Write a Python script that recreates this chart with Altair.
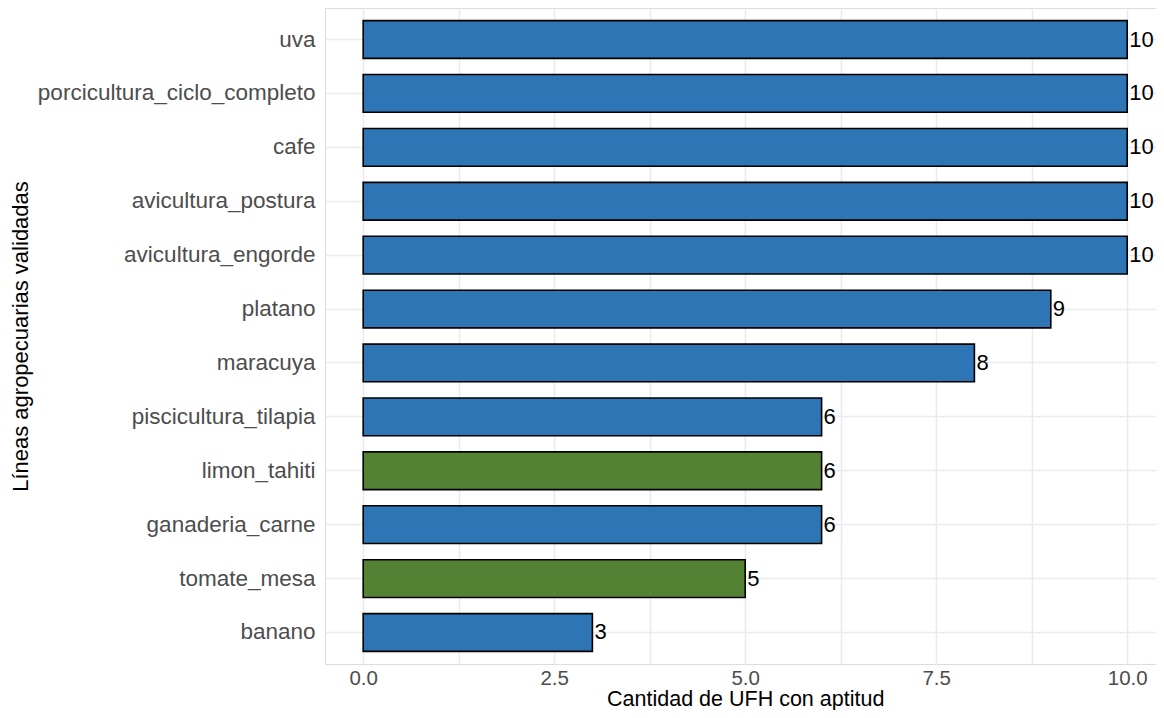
import altair as alt
import pandas as pd

lineas = ["uva", "porcicultura_ciclo_completo", "cafe", "avicultura_postura",
          "avicultura_engorde", "platano", "maracuya", "piscicultura_tilapia",
          "limon_tahiti", "ganaderia_carne", "tomate_mesa", "banano"]
valores = [10, 10, 10, 10, 10, 9, 8, 6, 6, 6, 5, 3]
grupos = ["A", "A", "A", "A", "A", "A", "A", "A", "B", "A", "B", "A"]
colores = ["#2E75B6", "#548235"]
x_grid = [0, 1.25, 2.5, 3.75, 5, 6.25, 7.5, 8.75, 10]

df = pd.DataFrame({"linea": lineas, "valor": valores, "grupo": grupos})

FONT = "Liberation Sans"
PX = 76.4
W, H = 831, 656

y_enc = alt.Y("linea:N", sort=lineas,
              scale=alt.Scale(paddingInner=0.3, paddingOuter=0.235),
              axis=alt.Axis(title="Líneas agropecuarias validadas", ticks=False, domain=False,
                            grid=True, gridColor="#EBEBEB", gridWidth=1.6, bandPosition=0.5,
                            labelFont=FONT, labelFontSize=22.5, labelColor="#4D4D4D",
                            labelPadding=10, labelLimit=400,
                            titleFont=FONT, titleFontSize=22, titleFontWeight="normal",
                            titleColor="black", titleAngle=-90, titleX=-305, titleY=H / 2,
                            titleAlign="center", titleBaseline="middle"))

x_enc = alt.X("valor:Q",
              scale=alt.Scale(domain=[-0.5, -0.5 + W / PX], nice=False, zero=False),
              axis=alt.Axis(title="Cantidad de UFH con aptitud", values=x_grid,
                            labelExpr="datum.value % 2.5 == 0 ? format(datum.value, '.1f') : ''",
                            ticks=False, domain=False, grid=True, gridColor="#EBEBEB",
                            gridWidth=1.6, labelOverlap=False, labelFlush=False,
                            labelFont=FONT, labelFontSize=20.5, labelColor="#4D4D4D",
                            labelPadding=4,
                            titleFont=FONT, titleFontSize=21.5, titleFontWeight="normal",
                            titleColor="black", titleY=41, titleBaseline="alphabetic",
                            titleX=0.5 * PX + 5 * PX))

base = alt.Chart(df)

bars = base.mark_bar(stroke="black", strokeWidth=1.6).encode(
    y=y_enc,
    x=x_enc,
    x2=alt.datum(0),
    color=alt.Color("grupo:N", scale=alt.Scale(domain=["A", "B"], range=colores), legend=None),
)

labels = base.mark_text(align="left", baseline="middle", dx=2, fontSize=22,
                        font=FONT, color="black").encode(
    y=alt.Y("linea:N", sort=lineas),
    x=alt.X("valor:Q"),
    text=alt.Text("valor:Q"),
)

chart = alt.layer(bars, labels).properties(
    width=W, height=H,
    autosize=alt.AutoSizeParams(type="none"),
    padding={"left": 317, "top": 0, "right": 0, "bottom": 46},
).configure_view(stroke=None).configure(background="white")

chart.save("out.html", embed_options={"renderer": "svg", "actions": False})
